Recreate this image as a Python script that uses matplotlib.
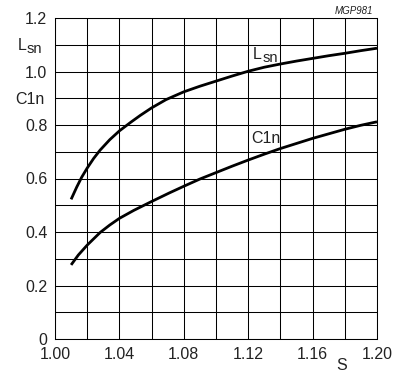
import matplotlib
matplotlib.use("Agg")
import matplotlib.pyplot as plt
import numpy as np

plt.rcParams['font.family'] = ['Liberation Sans', 'DejaVu Sans']

S_L = [1.010, 1.0135, 1.0166, 1.020, 1.024, 1.028, 1.034, 1.040, 1.047, 1.053, 1.060, 1.069,
       1.080, 1.090, 1.100, 1.110, 1.120, 1.130, 1.140, 1.150, 1.160, 1.170, 1.180, 1.190, 1.200]
Lsn = [0.522, 0.568, 0.605, 0.639, 0.675, 0.706, 0.745, 0.778, 0.810, 0.836, 0.864, 0.895,
       0.924, 0.945, 0.964, 0.983, 1.001, 1.016, 1.028, 1.039, 1.049, 1.059, 1.068, 1.078, 1.087]

S_C = [1.010, 1.0145, 1.020, 1.028, 1.034, 1.040, 1.049, 1.060, 1.071, 1.080, 1.090, 1.100,
       1.110, 1.120, 1.130, 1.140, 1.150, 1.160, 1.170, 1.180, 1.190, 1.200]
C1n = [0.277, 0.314, 0.351, 0.398, 0.426, 0.451, 0.481, 0.514, 0.546, 0.571, 0.598, 0.622,
       0.646, 0.669, 0.691, 0.712, 0.731, 0.750, 0.767, 0.784, 0.799, 0.812]

xgrid = np.round(np.arange(1.00, 1.2001, 0.02), 2)
xlabels = ['1.00', '', '1.04', '', '1.08', '', '1.12', '', '1.16', '', '1.20']
ygrid = np.round(np.arange(0, 1.2001, 0.1), 1)
ylabels = ['0', '', '0.2', '', '0.4', '', '0.6', '', '0.8', '', '1.0', '', '1.2']

FS = 11.5
TXT = '#222222'

fig = plt.figure(figsize=(3.98, 3.76), dpi=100)
ax = fig.add_axes([55/398, 37/376, 322/398, 321/376])
ax.plot(S_L, Lsn, color='black', lw=2.0, solid_capstyle='butt')
ax.plot(S_C, C1n, color='black', lw=2.0, solid_capstyle='butt')
ax.set_xlim(1.00, 1.20)
ax.set_ylim(0, 1.2)
ax.set_xticks(xgrid)
ax.set_xticklabels(xlabels)
ax.set_yticks(ygrid)
ax.set_yticklabels(ylabels)
ax.grid(True, color='black', lw=0.75)
ax.tick_params(length=0, labelsize=FS, colors=TXT)
ax.tick_params(axis='x', pad=5.5)
ax.tick_params(axis='y', pad=5.5)
for sp in ax.spines.values():
    sp.set_linewidth(0.75)

# curve labels
ax.text(1.1228, 1.048, 'L', fontsize=FS, ha='left', va='baseline', color=TXT)
ax.annotate('sn', xy=(1.1228, 1.048), xytext=(7.0, -2.4), textcoords='offset points',
            fontsize=FS - 1, ha='left', va='baseline', color=TXT)
ax.text(1.1222, 0.732, 'C1n', fontsize=FS, ha='left', va='baseline', color=TXT)

# axis side labels
fig.text(18/398, 1 - 50/376, 'L', fontsize=FS, ha='left', va='baseline', color=TXT)
fig.text(27/398, 1 - 53.3/376, 'sn', fontsize=FS - 1, ha='left', va='baseline', color=TXT)
fig.text(15/398, 1 - 99/376, 'C1n', fontsize=FS, ha='left', va='center', color=TXT)
ax.text(1.178, -0.1, 'S', fontsize=FS, ha='center', va='center', color=TXT)
fig.text(373/398, 1 - 11/376, 'MGP981', fontsize=7, style='italic', ha='right', va='center', color=TXT)

fig.savefig('out.png', dpi=100)
